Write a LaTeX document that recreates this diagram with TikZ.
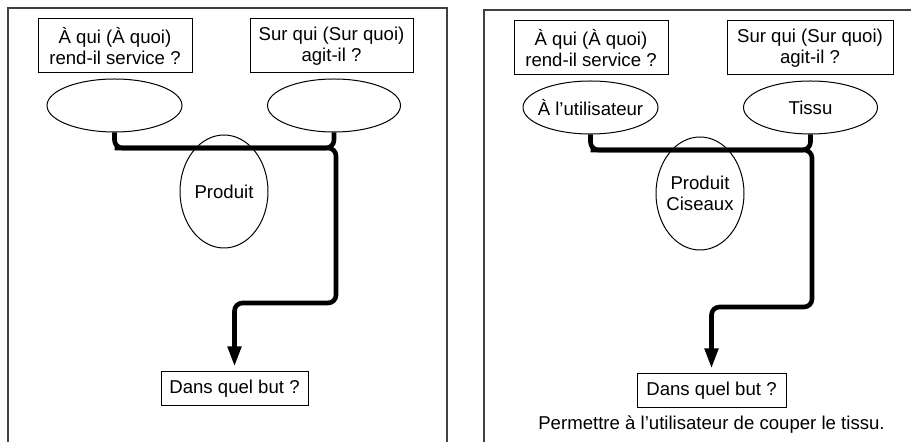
\documentclass[tikz,border=0pt]{standalone}
\usepackage{fontspec}
\setmainfont{Liberation Sans}
\usetikzlibrary{arrows.meta,shapes.geometric,positioning}

\begin{document}
\begin{tikzpicture}[x=0.5pt, y=-0.5pt, every node/.style={font=\fontsize{9.3}{10.5}\selectfont},
	>={Triangle[length=10pt, width=6.5pt]},
	qbox/.style={draw, line width=0.5pt, align=center, inner sep=0pt},
	oval/.style={draw, ellipse, line width=0.5pt, inner sep=0pt},
	wire/.style={line width=2.3pt, rounded corners=4pt},
	frame/.style={black!75, line width=0.6pt}]
	\useasboundingbox (0,0) rectangle (911,442);
	\draw[frame] (8,442) |- (447,8) -- (447,442);
	\node[qbox, minimum width=77pt, minimum height=27pt] (qa1) at (115,46) {À qui (À quoi)\\rend-il service ?};
	\node[qbox, minimum width=81.5pt, minimum height=27pt] (qb1) at (331.5,46) {Sur qui (Sur quoi)\\agit-il ?};
	\node[oval, minimum width=67.5pt, minimum height=26.5pt] (ea1) at (114.5,105.5) {};
	\node[oval, minimum width=66.5pt, minimum height=26.5pt] (eb1) at (334,105.5) {};
	\node[oval, minimum width=44pt, minimum height=56.5pt, label=center:Produit] (pr1) at (224,191.5) {};
	\node[qbox, minimum width=73.5pt, minimum height=17pt] (but1) at (234.5,389) {Dans quel but ?};
	\coordinate (ja1) at (336,148);
	\coordinate (ka1) at (336,303);
	\draw[wire, ->, shorten >=2.5pt] (ea1.south) |- (ja1) -- (ka1) -| (but1.north);
	\draw[wire] (eb1.south) |- (ea1.south |- ja1);
	\begin{scope}[shift={(476,2)}]
	\draw[frame] (8,440) |- (435,8);
	\node[qbox, minimum width=77pt, minimum height=27pt] (qa2) at (115,46) {À qui (À quoi)\\rend-il service ?};
	\node[qbox, minimum width=83pt, minimum height=27pt] (qb2) at (334,46) {Sur qui (Sur quoi)\\agit-il ?};
	\node[oval, minimum width=67.5pt, minimum height=26.5pt, label=center:À l'utilisateur] (ea2) at (114.5,105.5) {};
	\node[oval, minimum width=67pt, minimum height=26.5pt, label=center:Tissu] (eb2) at (334.5,105.5) {};
	\node[oval, minimum width=44pt, minimum height=56.5pt, label={[align=center]center:Produit\\Ciseaux}] (pr2) at (224,191.5) {};
	\node[qbox, minimum width=74.5pt, minimum height=17pt] (but2) at (235.5,389) {Dans quel but ?};
	\node[below=0pt of but2] (fin2) {Permettre à l'utilisateur de couper le tissu.};
	\coordinate (ja2) at (336,148);
	\coordinate (ka2) at (336,305);
	\draw[wire, ->, shorten >=2.5pt] (ea2.south) |- (ja2) -- (ka2) -| (but2.north);
	\draw[wire] (eb2.south) |- (ea2.south |- ja2);
	\end{scope}
\end{tikzpicture}
\end{document}
